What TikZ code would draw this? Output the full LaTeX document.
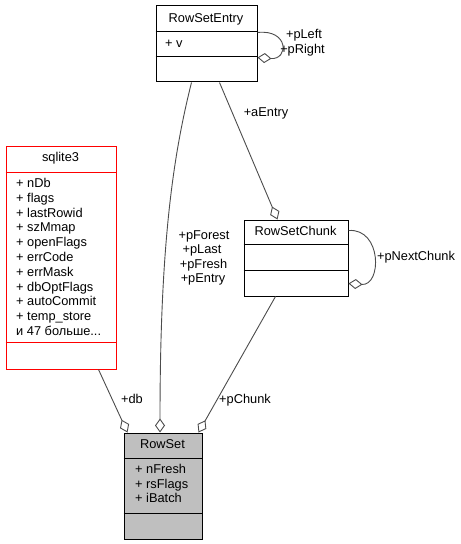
\documentclass[tikz,border=0pt]{standalone}
\usepackage{fontspec}
\setmainfont{Liberation Sans}
\usetikzlibrary{arrows.meta}
\begin{document}
\begin{tikzpicture}[x=1bp,y=-1bp,
  every node/.style={font=\fontsize{12.8bp}{14.7bp}\selectfont, inner sep=0pt},
  box/.style={draw=black, line width=1bp, anchor=north west, inner sep=0pt},
  ttl/.style={anchor=base},
  mem/.style={anchor=base west},
  lbl/.style={anchor=base},
  div/.style={draw=black, line width=1bp},
  conn/.style={draw=black!70, line width=0.9bp},
  agg/.style={conn, -{Diamond[open,length=14bp,width=10bp,line width=0.9bp]}}]
\useasboundingbox (0,0) rectangle (461,544);

% RowSetEntry
\node[box, minimum width=101bp, minimum height=76bp] (rse) at (155.5,5.5) {};
\node[ttl] (rset) at (206,22.5) {RowSetEntry};
\draw[div] (155.5,31.5) -- (256.5,31.5);
\draw[div] (155.5,56.5) -- (256.5,56.5);
\node[mem] (rsev) at (165,47.5) {+ v};

% sqlite3
\node[box, draw=red, minimum width=110bp, minimum height=222bp] (sq) at (5.5,146.5) {};
\node[ttl] (sqt) at (60.5,161.5) {sqlite3};
\draw[div, draw=red] (5.5,172.5) -- (115.5,172.5);
\draw[div, draw=red] (5.5,342.5) -- (115.5,342.5);
\foreach \t [count=\i from 0] in {+ nDb,+ flags,+ lastRowid,+ szMmap,+ openFlags,+ errCode,+ errMask,+ dbOptFlags,+ autoCommit,+ temp\_store}
  \node[mem] at (16,{187.5+14.8*\i}) {\t};
\node[mem] (more) at (16,335.5) {и 47 больше...};

% RowSetChunk
\node[box, minimum width=104bp, minimum height=76bp] (rsc) at (243.5,219.5) {};
\node[ttl] (rsct) at (295.5,235.5) {RowSetChunk};
\draw[div] (243.5,244.5) -- (347.5,244.5);
\draw[div] (243.5,270.5) -- (347.5,270.5);

% RowSet
\node[box, fill=black!25, minimum width=78bp, minimum height=106bp] (rs) at (123.5,432.5) {};
\node[ttl] (rst) at (162.5,448.5) {RowSet};
\draw[div] (123.5,458.5) -- (201.5,458.5);
\draw[div] (123.5,513.5) -- (201.5,513.5);
\node[mem] (m1) at (135,473.5) {+ nFresh};
\node[mem] (m2) at (135,488.5) {+ rsFlags};
\node[mem] (m3) at (135,502.5) {+ iBatch};

% connectors
\draw[agg] ([xshift=93bp]sq.south west) -- ([xshift=4bp]rs.north west);
\node[lbl] (ldb) at (132,403.5) {+db};

\draw[agg] ([xshift=36bp]rse.south west) .. controls (172,160) and (160,250) .. ([xshift=36.5bp]rs.north west);
\node[lbl] (lpf) at (204,239.5) {+pForest};
\node[lbl] at (202,253.9) {+pLast};
\node[lbl] at (203.5,268.3) {+pFresh};
\node[lbl] at (203,282.7) {+pEntry};

\draw[agg] ([xshift=64bp]rse.south west) -- ([xshift=34bp]rsc.north west);
\node[lbl] (lae) at (266,116.5) {+aEntry};

\draw[agg] ([xshift=32bp]rsc.south west) -- ([xshift=-4bp]rs.north east);
\node[lbl] (lpc) at (245,403.5) {+pChunk};

\draw[agg] ([yshift=-27bp]rse.north east) .. controls (289,29) and (289,60) .. ([yshift=-52bp]rse.north east);
\node[lbl] (lpl) at (304,38.5) {+pLeft};
\node[lbl] (lpr) at (302.5,53.5) {+pRight};

\draw[agg] ([yshift=-11bp]rsc.north east) .. controls (382,228) and (382,286) .. ([yshift=-64bp]rsc.north east);
\node[lbl] (lpn) at (416,260.5) {+pNextChunk};
\end{tikzpicture}
\end{document}
